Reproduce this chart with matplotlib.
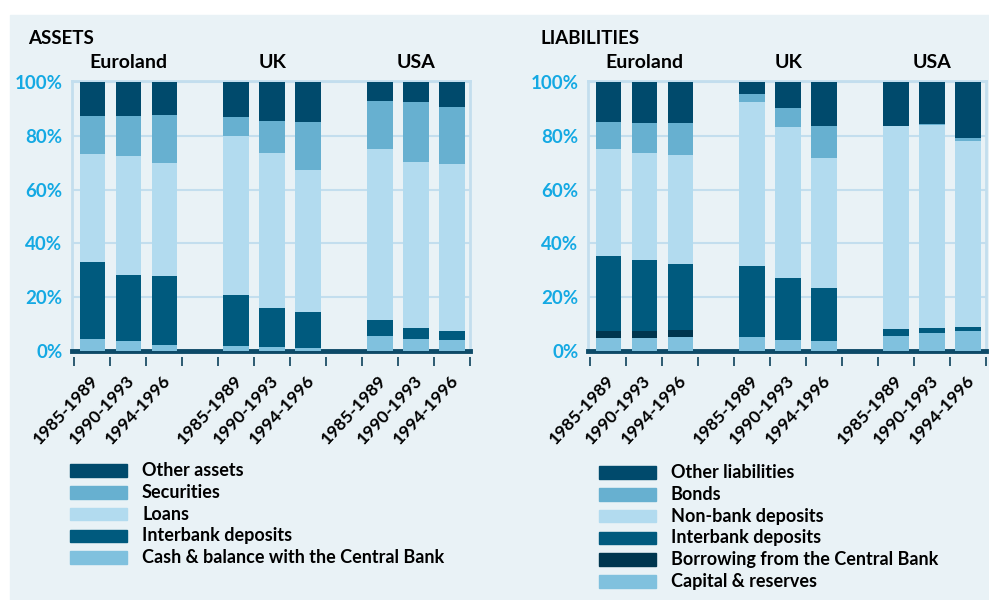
import matplotlib

matplotlib.use("Agg")
import matplotlib.pyplot as plt
import numpy as np
from matplotlib.patches import Rectangle
from matplotlib.transforms import ScaledTranslation

W, H = 989, 600
plt.rcParams["font.family"] = ["Lato", "DejaVu Sans"]

regions = ["Euroland", "UK", "USA"]
periods = ["1985-1989", "1990-1993", "1994-1996"]

# Assets, % of balance sheet (Euroland x3, UK x3, USA x3), bottom to top
asset_cash = [4.3, 3.6, 2.1, 1.7, 1.4, 1.0, 5.5, 4.3, 4.0]
asset_interbank = [28.7, 24.6, 25.7, 19.0, 14.5, 13.4, 5.9, 4.1, 3.3]
asset_loans = [40.2, 44.3, 42.1, 59.2, 57.7, 52.8, 63.7, 61.9, 62.2]
asset_securities = [14.1, 14.8, 17.8, 7.1, 11.9, 17.9, 17.8, 22.3, 21.2]
asset_other = [12.7, 12.7, 12.3, 13.0, 14.5, 14.9, 7.1, 7.4, 9.3]

# Liabilities, % of balance sheet, bottom to top
liab_capital = [4.7, 4.7, 5.1, 5.1, 4.0, 3.6, 5.5, 6.6, 7.3]
liab_borrowing = [2.6, 2.6, 2.6, 0.0, 0.0, 0.0, 0.0, 0.0, 0.0]
liab_interbank = [27.9, 26.4, 24.6, 26.4, 23.0, 19.7, 2.6, 1.8, 1.5]
liab_nonbank = [39.9, 39.9, 40.5, 61.1, 56.3, 48.4, 75.5, 75.6, 69.2]
liab_bonds = [10.0, 11.1, 11.9, 2.9, 7.0, 11.9, 0.2, 0.3, 1.2]
liab_other = [14.9, 15.3, 15.3, 4.5, 9.7, 16.4, 16.2, 15.7, 20.8]

asset_names = ["Cash & balance with the Central Bank", "Interbank deposits",
               "Loans", "Securities", "Other assets"]
liab_names = ["Capital & reserves", "Borrowing from the Central Bank",
              "Interbank deposits", "Non-bank deposits", "Bonds",
              "Other liabilities"]

C_DARK = "#004a6c"
C_TEAL = "#005a7e"
C_MID = "#67b0d0"
C_LIGHT = "#b2dbef"
C_PALE = "#80c1de"
C_NAVY = "#00364f"

asset_colors = [C_PALE, C_TEAL, C_LIGHT, C_MID, C_DARK]
liab_colors = [C_PALE, C_NAVY, C_TEAL, C_LIGHT, C_MID, C_DARK]

BG = "#e9f2f6"
FRAME = "#c3deee"
CYAN = "#14a9e3"

positions = [0, 1, 2, 4, 5, 6, 8, 9, 10]
bounds = np.arange(-0.5, 11.0, 1.0)


def px_rect(left, top, right, bottom):
    return [left / W, 1 - bottom / H, (right - left) / W, (bottom - top) / H]


def draw_panel(fig, left, title, title_x, series, names, colors, legend_x, legend_y):
    ax = fig.add_axes(px_rect(left, 81, left + 398, 351))
    ax.set_facecolor("none")

    base = np.zeros(len(positions))
    for vals, col in zip(series, colors):
        ax.bar(positions, vals, width=0.7, bottom=base, color=col, zorder=3)
        base += np.array(vals)

    ax.set_xlim(-0.56, 10.5)
    ax.set_ylim(0, 100.37)

    ax.set_yticks([0, 20, 40, 60, 80, 100], ["0%", "20%", "40%", "60%", "80%", "100%"])
    ax.tick_params(axis="y", length=0, pad=7, labelsize=13.5, labelcolor=CYAN)
    for lab in ax.get_yticklabels():
        lab.set_fontweight("bold")
    ax.yaxis.grid(True, color=FRAME, lw=1.5, zorder=0)

    ax.set_xticks(positions, periods * 3, rotation=47, ha="right", va="center",
                  rotation_mode="anchor", fontsize=12.5, fontweight="bold")
    ax.tick_params(axis="x", length=0, pad=19)
    shift = ScaledTranslation(3.5 / 100, 0, fig.dpi_scale_trans)
    for lab in ax.get_xticklabels():
        lab.set_transform(lab.get_transform() + shift)

    ax.vlines(bounds, -0.022, -0.056, transform=ax.get_xaxis_transform(),
              clip_on=False, color="#1d4f66", lw=1.3)

    for side in ("top", "left", "right"):
        ax.spines[side].set_color(FRAME)
        ax.spines[side].set_linewidth(2)
    ax.spines["bottom"].set_color("#0d4a68")
    ax.spines["bottom"].set_linewidth(3.5)

    for i, reg in enumerate(regions):
        ax.text(positions[i * 3 + 1], 1.067, reg, transform=ax.get_xaxis_transform(),
                ha="center", va="center", fontsize=14, fontweight="bold")

    fig.text(title_x / W, 1 - 38 / H, title, ha="left", va="center",
             fontsize=13.5, fontweight="bold")

    # legend: top series first
    for row, (name, col) in enumerate(zip(names[::-1], colors[::-1])):
        yc = legend_y + row * 21.8
        fig.add_artist(Rectangle((legend_x / W, 1 - (yc + 6.3) / H), 57 / W, 12.6 / H,
                                 transform=fig.transFigure, color=col))
        fig.text((legend_x + 72) / W, 1 - yc / H, name, ha="left", va="center",
                 fontsize=13, fontweight="bold")
    return ax


fig = plt.figure(figsize=(W / 100, H / 100), dpi=100, facecolor="white")
fig.add_artist(Rectangle((10 / W, 0), 1, 1 - 15 / H, transform=fig.transFigure,
                         color=BG, zorder=-10))

draw_panel(fig, 72, "ASSETS", 28,
           [asset_cash, asset_interbank, asset_loans, asset_securities, asset_other],
           asset_names, asset_colors, 70, 470.5)
draw_panel(fig, 588, "LIABILITIES", 540,
           [liab_capital, liab_borrowing, liab_interbank, liab_nonbank, liab_bonds,
            liab_other],
           liab_names, liab_colors, 599, 472.5)

fig.savefig("out.png", dpi=100, facecolor=fig.get_facecolor())
